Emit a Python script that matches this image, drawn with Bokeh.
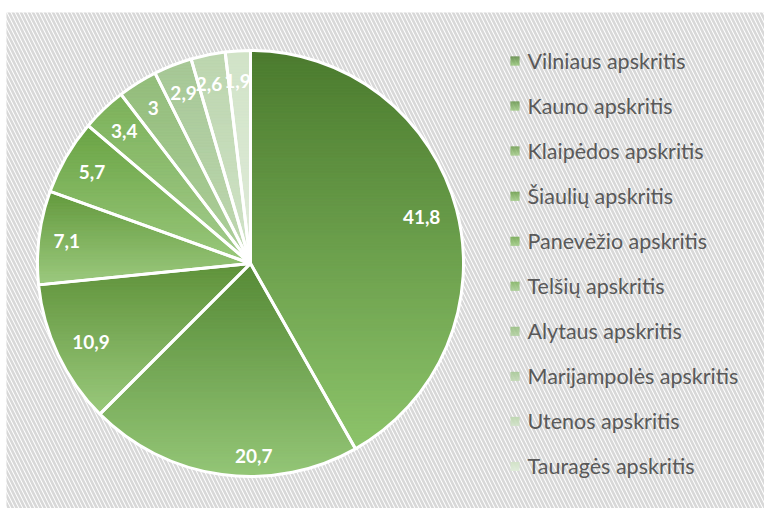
import math
from bokeh.plotting import figure
from bokeh.models import Range1d, ColumnDataSource
from bokeh.core.properties import value
from bokeh.embed import file_html
from bokeh.resources import INLINE

# ---------------- data ----------------
regions = ["Vilniaus apskritis", "Kauno apskritis", "Klaipėdos apskritis",
           "Šiaulių apskritis", "Panevėžio apskritis", "Telšių apskritis",
           "Alytaus apskritis", "Marijampolės apskritis", "Utenos apskritis",
           "Tauragės apskritis"]
shares = [41.8, 20.7, 10.9, 7.1, 5.7, 3.4, 3.0, 2.9, 2.6, 1.9]
value_labels = ["41,8", "20,7", "10,9", "7,1", "5,7", "3,4", "3", "2,9", "2,6", "1,9"]

# gradient colours (top -> bottom) per slice
top_colors = ["#4b7b2e", "#568a36", "#5f923a", "#63993d", "#6aa444",
              "#7cb259", "#93bd7b", "#a6c895", "#bcd6ae", "#d1e3c7"]
bottom_colors = ["#8dc46b", "#94c677", "#9ac97c", "#9dca80", "#9bc97e",
                 "#a5cc8f", "#b0d09e", "#c1d9b4", "#d2e3c9", "#e0ebda"]

# ---------------- layout ----------------
W, H = 764, 508
CX, CY, R = 250, 245, 213
LABEL_R = 0.86
label_nudge = [(-6, 0), (28, -11), (6, 0), (-2, 0), (0, 0),
               (0, 0), (0, 0), (0, 0), (-5, 0), (-2, 0)]
LEG_X, LEG_TX, LEG_Y0, LEG_DY, LEG_SZ = 514.5, 527, 447.5, 45.05, 9


def hex2rgb(h):
    h = h.lstrip("#")
    return tuple(int(h[i:i + 2], 16) for i in (0, 2, 4))


def mix(c1, c2, t):
    a, b = hex2rgb(c1), hex2rgb(c2)
    return "#%02x%02x%02x" % tuple(round(a[i] + (b[i] - a[i]) * t) for i in range(3))


def clip_half(pts, keep, yb):
    out = []
    n = len(pts)
    for i in range(n):
        cur, prev = pts[i], pts[i - 1]
        cin, pin = keep(cur[1]), keep(prev[1])
        if cin:
            if not pin:
                t = (yb - prev[1]) / (cur[1] - prev[1])
                out.append((prev[0] + t * (cur[0] - prev[0]), yb))
            out.append(cur)
        elif pin:
            t = (yb - prev[1]) / (cur[1] - prev[1])
            out.append((prev[0] + t * (cur[0] - prev[0]), yb))
    return out


p = figure(width=W, height=H, x_range=Range1d(0, W), y_range=Range1d(0, H),
           x_axis_type=None, y_axis_type=None, toolbar_location=None,
           output_backend="svg", min_border=0, outline_line_color=None,
           background_fill_color="white", border_fill_color="white")
p.grid.visible = False

# hatched chart-area background
p.quad(left=6, right=W, bottom=0, top=H - 12, fill_color="white", line_color=None,
       hatch_pattern="left_diagonal_line", hatch_color="#d8d8d8",
       hatch_scale=8, hatch_weight=2.6)

# angles
total = sum(shares)
starts, ends = [], []
cum = 0.0
for s in shares:
    starts.append(math.pi / 2 - 2 * math.pi * cum / total)
    cum += s
    ends.append(math.pi / 2 - 2 * math.pi * cum / total)

src = ColumnDataSource(dict(start=starts, end=ends, region=regions,
                            color=[mix(a, b, 0.5) for a, b in zip(top_colors, bottom_colors)]))
p.wedge(x=CX, y=CY, radius=R, start_angle="start", end_angle="end",
        direction="clock", fill_color="color", line_color=None, source=src)

# vertical gradient fill for each slice
xs, ys, cols = [], [], []
BAND = 1.5
for i in range(len(shares)):
    a0, a1 = starts[i], ends[i]
    n = max(4, int(abs(a0 - a1) / math.radians(0.5)))
    poly = [(CX, CY)] + [(CX + R * math.cos(a0 + (a1 - a0) * k / n),
                          CY + R * math.sin(a0 + (a1 - a0) * k / n)) for k in range(n + 1)]
    ymax = max(pt[1] for pt in poly)
    ymin = min(pt[1] for pt in poly)
    y = ymax
    while y > ymin:
        yl = max(ymin, y - BAND)
        part = clip_half(poly, lambda v, yy=y: v <= yy, y)
        part = clip_half(part, lambda v, yy=yl: v >= yy, yl) if part else []
        if len(part) >= 3:
            t = ((ymax - (y + yl) / 2) / (ymax - ymin))
            xs.append([q[0] for q in part])
            ys.append([q[1] for q in part])
            cols.append(mix(top_colors[i], bottom_colors[i], t))
        y = yl
p.patches(xs=xs, ys=ys, fill_color=cols, line_color=cols, line_width=0.7)

# white separators / outline
p.wedge(x=CX, y=CY, radius=R, start_angle="start", end_angle="end",
        direction="clock", fill_alpha=0, line_color="white", line_width=3, source=src)

# data labels
lx, ly = [], []
for i in range(len(shares)):
    mid = (starts[i] + ends[i]) / 2
    lx.append(CX + LABEL_R * R * math.cos(mid) + label_nudge[i][0])
    ly.append(CY + LABEL_R * R * math.sin(mid) + label_nudge[i][1])
p.text(x=lx, y=ly, text=value_labels, text_color="white",
       text_font=value("Lato"), text_font_style="bold", text_font_size="19px",
       text_align="center", text_baseline="middle")

# legend (gradient squares + labels)
qx0, qx1, qy0, qy1, qc = [], [], [], [], []
leg_y = []
for i in range(len(regions)):
    yc = LEG_Y0 - i * LEG_DY
    leg_y.append(yc)
    for k in range(LEG_SZ):
        top = yc + LEG_SZ / 2 - k
        qx0.append(LEG_X - LEG_SZ / 2)
        qx1.append(LEG_X + LEG_SZ / 2)
        qy1.append(top)
        qy0.append(top - 1)
        qc.append(mix(top_colors[i], bottom_colors[i], (k + 0.5) / LEG_SZ))
p.quad(left=qx0, right=qx1, bottom=qy0, top=qy1, fill_color=qc, line_color=None)
p.text(x=[LEG_TX] * len(regions), y=leg_y, text=regions, text_color="#595959",
       text_font=value("Lato"), text_font_size="21.5px",
       text_align="left", text_baseline="middle")

open("out.html", "w").write(file_html(p, INLINE))
